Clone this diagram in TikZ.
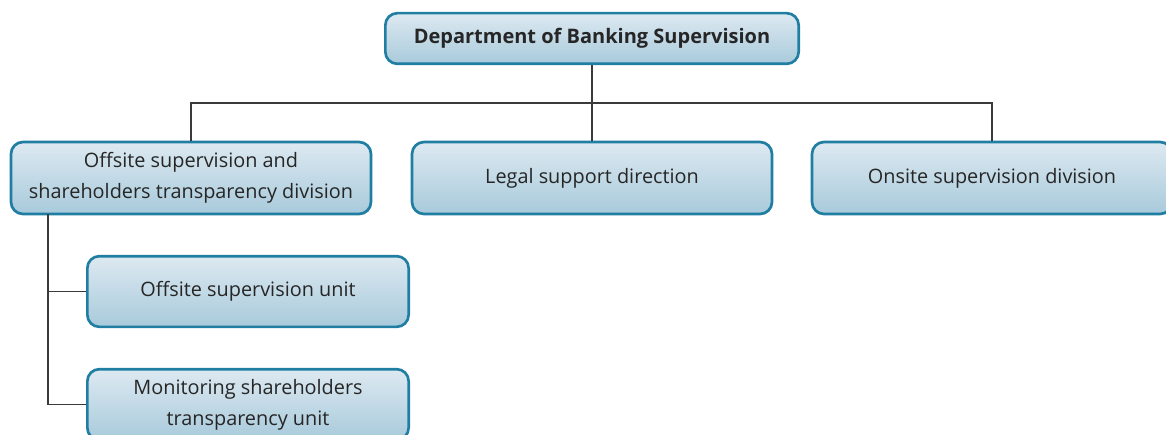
\documentclass[tikz,border=0pt]{standalone}
\usepackage{fontspec}
\setmainfont{Open Sans}
\usetikzlibrary{positioning}

\definecolor{boxline}{HTML}{1F7EA1}
\definecolor{boxtop}{HTML}{DDE9F1}
\definecolor{boxbottom}{HTML}{A8CADB}
\definecolor{linkgray}{HTML}{3A3A3A}

\tikzset{
    unitbox/.style={draw=boxline, line width=2pt, rounded corners=9pt,
        top color=boxtop, bottom color=boxbottom, inner sep=0pt,
        align=center, font=\fontsize{14.9pt}{23.2pt}\selectfont, text=black!85},
    link/.style={draw=linkgray, line width=0.8pt}
}

\begin{document}
\begin{tikzpicture}[x=0.75pt, y=-0.75pt]
    \useasboundingbox (0,0) rectangle (1166,435);

    % head of the department
    \node[unitbox, minimum width=310pt, minimum height=38pt,
          font=\fontsize{15pt}{20pt}\selectfont\bfseries] (dept) at (592, 38.5)
          {Department of Banking Supervision};

    % the three divisions
    \node[unitbox, minimum width=270pt, minimum height=54pt] (offdiv) at (191, 178)
          {Offsite supervision and\\shareholders transparency division};
    \node[unitbox, minimum width=270pt, minimum height=54pt] (legal) at (592, 178)
          {Legal support direction};
    \node[unitbox, minimum width=270pt, minimum height=54pt] (onsite) at (992, 178)
          {Onsite supervision division};

    % the two units under the offsite division
    \node[unitbox, minimum width=241pt, minimum height=53pt] (offunit) at (248, 291.5)
          {Offsite supervision unit};
    \node[unitbox, minimum width=241pt, minimum height=53pt] (monunit) at (248, 404.5)
          {Monitoring shareholders\\transparency unit};

    % connectors from the head
    \coordinate (bus) at (592, 103);
    \draw[link] (dept.south) -- (bus);
    \draw[link] (offdiv.north) |- (bus);
    \draw[link] (bus) -| (onsite.north);
    \draw[link] (bus) -- (legal.north);

    % connectors to the units
    \coordinate (trunk) at (48, 214);
    \draw[link] (trunk) |- (offunit.west);
    \draw[link] (trunk) |- (monunit.west);

\end{tikzpicture}
\end{document}
